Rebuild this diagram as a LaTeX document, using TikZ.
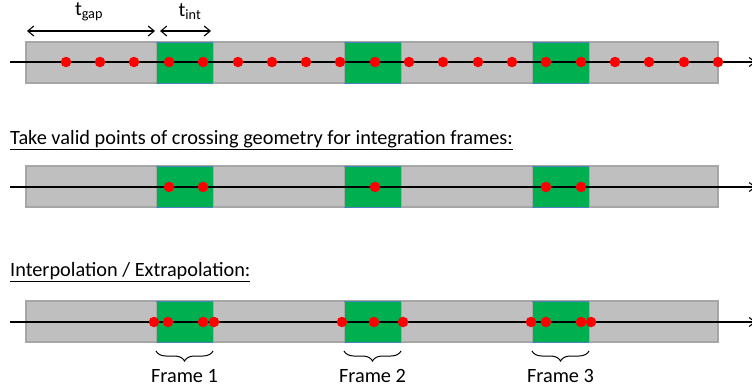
\documentclass[tikz,border=0pt]{standalone}
\usepackage{fontspec}
\setmainfont{Carlito}
\usetikzlibrary{arrows.meta,decorations.pathreplacing}
\definecolor{bargray}{HTML}{BFBFBF}
\definecolor{baredge}{HTML}{A6A6A6}
\definecolor{framegreen}{HTML}{00B050}
\definecolor{frameedge}{HTML}{4F81BD}
\tikzset{
  bar/.style={fill=bargray,draw=baredge,line width=1.2pt},
  frame/.style={fill=framegreen,draw=baredge,line width=0.8pt},
  frameline/.style={draw=frameedge,line width=1pt},
  axis/.style={draw=black,line width=1.1pt,-{Straight Barb[length=6pt,width=9pt]}},
  pt/.style={circle,fill=red,inner sep=0pt,minimum size=10.5pt},
  dim/.style={draw=black,line width=1.1pt,{Straight Barb[length=6pt,width=10pt]}-{Straight Barb[length=6pt,width=10pt]}},
  lbl/.style={font=\fontsize{20.3}{22}\selectfont,inner sep=0pt},
  brace/.style={draw=black,line width=1pt,decorate,decoration={brace,mirror,amplitude=10pt}}
}
% green integration frame with blue top and bottom edges
\newcommand\intframe[3]{%
  \path[frame] (#1,#3) rectangle (#2,{#3+41});
  \draw[frameline] (#1,#3) -- (#2,#3);
  \draw[frameline] (#1,{#3+41}) -- (#2,{#3+41});
}
\begin{document}
\begin{tikzpicture}[x=1pt,y=-1pt]
\useasboundingbox (0,0) rectangle (752,388);

% ---- row 1: all sample points ----
\path[bar] (26,42) rectangle (718,83);
\foreach \a/\b in {156/213,344/401,532/589}
  \intframe{\a}{\b}{42}
\coordinate (s1) at (10,62);
\coordinate (e1) at (756,62);
\draw[axis] (s1) -- (e1);
\foreach \x in {66,100,134,169,203,238,272,306,340,375,409,443,478,512,546,581,615,649,684,718}
  \node[pt] at (\x,62) {};

% interval dimensions
\coordinate (g0) at (27,31);
\coordinate (g1) at (155,31);
\coordinate (i0) at (160,31);
\coordinate (i1) at (211,31);
\draw[dim] (g0) -- (g1);
\draw[dim] (i0) -- (i1);
\node[lbl] (tgap) at (89,12) {t\textsubscript{gap}};
\node[lbl] (tint) at (190,12) {t\textsubscript{int}};

% ---- row 2: points inside integration frames ----
\node[lbl,anchor=west] (cap2) at (10,140) {\underline{Take valid points of crossing geometry for integration frames:}};
\path[bar] (26,166) rectangle (718,207);
\foreach \a/\b in {156/213,344/401,532/589}
  \intframe{\a}{\b}{166}
\coordinate (s2) at (10,187);
\coordinate (e2) at (756,187);
\draw[axis] (s2) -- (e2);
\foreach \x in {169,203,375,546,581}
  \node[pt] at (\x,187) {};

% ---- row 3: interpolated / extrapolated frame edges ----
\node[lbl,anchor=west] (cap3) at (10,272) {\underline{Interpolation / Extrapolation:}};
\path[bar] (26,301) rectangle (718,342);
\foreach \a/\b in {156/213,344/401,532/589}
  \intframe{\a}{\b}{301}
\coordinate (s3) at (10,322);
\coordinate (e3) at (756,322);
\draw[axis] (s3) -- (e3);
\foreach \x in {154,168,203,214,342,374,403,531,546,581,591}
  \node[pt] at (\x,322) {};

% frame braces and labels
\foreach \a/\b/\k in {156/213/1,344/401/2,532/589/3}{
  \coordinate (b\k l) at (\a,351);
  \coordinate (b\k r) at (\b,351);
  \draw[brace] (b\k l) -- (b\k r);
  \node[lbl] (f\k) at ({(\a+\b)/2},376) {Frame \k};
}
\end{tikzpicture}
\end{document}
